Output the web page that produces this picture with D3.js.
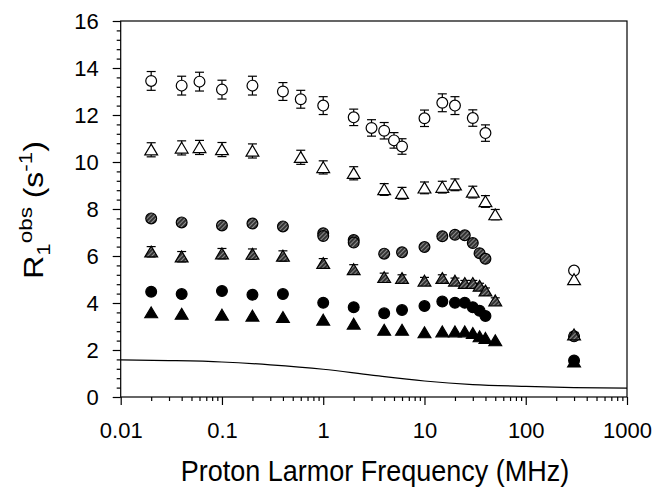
<!DOCTYPE html>
<html>
<head>
<meta charset="utf-8">
<script src="https://cdn.jsdelivr.net/npm/d3@7"></script>
<style>
  body { margin: 0; background: #fff; }
  text { font-family: "Liberation Sans", Arial, sans-serif; fill: #000; }
</style>
</head>
<body>
<div id="chart"></div>
<script>
// [frequency MHz, R1obs, error]
const openCircles = [
  [0.02, 13.45, 0.4], [0.04, 13.25, 0.4], [0.06, 13.42, 0.4], [0.1, 13.08, 0.4],
  [0.2, 13.25, 0.4], [0.4, 13.0, 0.38], [0.6, 12.67, 0.38], [1, 12.4, 0.38],
  [2, 11.9, 0.35], [3, 11.45, 0.35], [4, 11.33, 0.35], [5, 10.92, 0.33],
  [6, 10.66, 0.33], [10, 11.86, 0.35], [15, 12.52, 0.38], [20, 12.4, 0.38],
  [30, 11.87, 0.35], [40, 11.23, 0.35], [300, 5.38, 0]
];
const openTriangles = [
  [0.02, 10.52, 0.3], [0.04, 10.6, 0.3], [0.06, 10.62, 0.3], [0.1, 10.53, 0.3],
  [0.2, 10.47, 0.3], [0.6, 10.2, 0.3], [1, 9.77, 0.28], [2, 9.52, 0.28],
  [4, 8.83, 0.25], [6, 8.67, 0.25], [10, 8.9, 0.25], [15, 8.93, 0.25],
  [20, 9.03, 0.25], [30, 8.72, 0.25], [40, 8.32, 0.25], [50, 7.76, 0.22],
  [300, 5.0, 0]
];
const grayCircles = [
  [0.02, 7.6, 0.12], [0.04, 7.43, 0.12], [0.1, 7.3, 0.12], [0.2, 7.38, 0.12],
  [0.4, 7.26, 0.12], [1, 6.97, 0.1], [1, 6.85, 0.1], [2, 6.68, 0.1], [2, 6.57, 0.1],
  [4, 6.1, 0.1], [6, 6.16, 0.1], [10, 6.38, 0.1], [15, 6.84, 0.1], [20, 6.9, 0.1],
  [25, 6.88, 0.1], [30, 6.55, 0.1], [35, 6.12, 0.1], [40, 5.88, 0.1], [300, 2.58, 0]
];
const grayTriangles = [
  [0.02, 6.18, 0.22], [0.04, 5.97, 0.22], [0.1, 6.1, 0.22], [0.2, 6.08, 0.22],
  [0.4, 6.0, 0.22], [1, 5.69, 0.2], [2, 5.43, 0.2], [4, 5.09, 0.18],
  [6, 5.05, 0.15], [10, 4.94, 0.15], [15, 5.05, 0.15], [20, 4.94, 0.12],
  [25, 4.84, 0.12], [30, 4.84, 0.12], [35, 4.72, 0.12], [40, 4.52, 0.12],
  [50, 4.1, 0.12], [300, 2.65, 0.1]
];
const blackCircles = [
  [0.02, 4.48, 0], [0.04, 4.38, 0], [0.1, 4.51, 0], [0.2, 4.35, 0], [0.4, 4.38, 0],
  [1, 4.01, 0], [2, 3.82, 0], [4, 3.56, 0], [6, 3.7, 0], [10, 3.87, 0],
  [15, 4.06, 0], [20, 4.01, 0], [25, 4.01, 0], [30, 3.82, 0], [35, 3.67, 0],
  [40, 3.45, 0], [300, 1.55, 0]
];
const blackTriangles = [
  [0.02, 3.59, 0], [0.04, 3.53, 0], [0.1, 3.49, 0], [0.2, 3.45, 0], [0.4, 3.39, 0],
  [1, 3.28, 0], [2, 3.11, 0], [4, 2.85, 0], [6, 2.85, 0], [10, 2.74, 0],
  [15, 2.78, 0], [20, 2.78, 0], [25, 2.78, 0], [30, 2.71, 0], [35, 2.57, 0],
  [40, 2.5, 0], [50, 2.4, 0], [300, 1.5, 0]
];
// solid curve
const curve = [
  [0.01, 1.58], [0.03, 1.55], [0.1, 1.49], [0.3, 1.37], [1, 1.18], [3, 0.93],
  [10, 0.68], [30, 0.53], [100, 0.45], [300, 0.4], [1000, 0.38]
];
const xTicks = [0.01, 0.1, 1, 10, 100, 1000];
const xTickLabels = ["0.01", "0.1", "1", "10", "100", "1000"];
const yTicks = [0, 2, 4, 6, 8, 10, 12, 14, 16];

const width = 655, height = 488;
const M = { left: 120.7, right: 627, top: 21, bottom: 397 };

const svg = d3.select("#chart").append("svg")
  .attr("width", width).attr("height", height);
svg.append("rect").attr("width", width).attr("height", height).attr("fill", "#fff");

// hatched fill for grey markers
const pat = svg.append("defs").append("pattern")
  .attr("id", "hatch").attr("patternUnits", "userSpaceOnUse")
  .attr("width", 3).attr("height", 3).attr("patternTransform", "rotate(45)");
pat.append("rect").attr("width", 3).attr("height", 3).attr("fill", "#333");
pat.append("rect").attr("width", 1).attr("height", 3).attr("fill", "#8a8a8a");

const x = d3.scaleLog().domain([0.01, 1000]).range([M.left, M.right]);
const y = d3.scaleLinear().domain([0, 16]).range([M.bottom, M.top]);

// frame
svg.append("rect")
  .attr("x", M.left).attr("y", M.top)
  .attr("width", M.right - M.left).attr("height", M.bottom - M.top)
  .attr("fill", "none").attr("stroke", "#000").attr("stroke-width", 1.2);

// minor ticks
const yMinor = d3.range(0, 16.01, 0.4).filter(v => Math.abs(v / 2 - Math.round(v / 2)) > 0.01);
svg.append("g").attr("transform", `translate(${M.left},0)`)
  .call(d3.axisLeft(y).tickValues(yMinor).tickSize(4).tickFormat(""))
  .call(g => g.select(".domain").remove());
const xMinor = [];
for (let d = 0.01; d < 1000; d *= 10) for (let k = 2; k <= 9; k++) xMinor.push(d * k);
svg.append("g").attr("transform", `translate(0,${M.bottom})`)
  .call(d3.axisBottom(x).tickValues(xMinor).tickSize(4).tickFormat(""))
  .call(g => g.select(".domain").remove());

// major axes
const yAxis = svg.append("g").attr("transform", `translate(${M.left},0)`)
  .call(d3.axisLeft(y).tickValues(yTicks).tickSize(8).tickPadding(14).tickFormat(d3.format("d")));
const xAxis = svg.append("g").attr("transform", `translate(0,${M.bottom})`)
  .call(d3.axisBottom(x).tickValues(xTicks).tickSize(8).tickPadding(17)
    .tickFormat((d, i) => xTickLabels[i]));
[yAxis, xAxis].forEach(a => {
  a.select(".domain").remove();
  a.selectAll("text").style("font-size", "22px").attr("fill", "#000")
    .style("font-family", '"Liberation Sans", Arial, sans-serif');
});
svg.selectAll(".tick line").attr("stroke", "#000").attr("stroke-width", 1.2);
yAxis.selectAll("text").attr("dy", "0.36em");

// solid curve
const line = d3.line().x(d => x(d[0])).y(d => y(d[1])).curve(d3.curveMonotoneX);
svg.append("path").datum(curve).attr("d", line)
  .attr("fill", "none").attr("stroke", "#000").attr("stroke-width", 1.2);

// markers
const R = 5.4;
function triPath(cx, cy) {
  const w = 6.4, h = 5.7;
  return `M${cx},${cy - h}L${cx + w},${cy + h * 0.9}L${cx - w},${cy + h * 0.9}Z`;
}
function drawSeries(data, shape, fill) {
  const g = svg.append("g");
  const eb = g.selectAll(".eb").data(data.filter(d => d[2] > 0)).join("g");
  eb.append("line")
    .attr("x1", d => x(d[0])).attr("x2", d => x(d[0]))
    .attr("y1", d => y(d[1] - d[2])).attr("y2", d => y(d[1] + d[2]));
  eb.append("line")
    .attr("x1", d => x(d[0]) - 4.5).attr("x2", d => x(d[0]) + 4.5)
    .attr("y1", d => y(d[1] + d[2])).attr("y2", d => y(d[1] + d[2]));
  eb.append("line")
    .attr("x1", d => x(d[0]) - 4.5).attr("x2", d => x(d[0]) + 4.5)
    .attr("y1", d => y(d[1] - d[2])).attr("y2", d => y(d[1] - d[2]));
  eb.selectAll("line").attr("stroke", "#000").attr("stroke-width", 1.2);

  if (shape === "circle") {
    g.selectAll(".m").data(data).join("circle")
      .attr("cx", d => x(d[0])).attr("cy", d => y(d[1])).attr("r", R)
      .attr("fill", fill).attr("stroke", "#000").attr("stroke-width", 1.2);
  } else {
    g.selectAll(".m").data(data).join("path")
      .attr("d", d => triPath(x(d[0]), y(d[1])))
      .attr("fill", fill).attr("stroke", "#000").attr("stroke-width", 1.2)
      .attr("stroke-linejoin", "miter");
  }
}
drawSeries(openCircles, "circle", "#fff");
drawSeries(openTriangles, "triangle", "#fff");
drawSeries(grayCircles, "circle", "url(#hatch)");
drawSeries(grayTriangles, "triangle", "url(#hatch)");
drawSeries(blackCircles, "circle", "#000");
drawSeries(blackTriangles, "triangle", "#000");

// axis titles
svg.append("text")
  .attr("transform", "translate(375,481) scale(1,1.1)")
  .attr("text-anchor", "middle")
  .style("font-size", "27px")
  .text("Proton Larmor Frequency (MHz)");

const yl = svg.append("text")
  .attr("transform", "translate(43,210) rotate(-90) scale(1.18,1)")
  .attr("text-anchor", "middle")
  .style("font-size", "27px");
yl.append("tspan").text("R");
yl.append("tspan").attr("dy", 7).style("font-size", "19px").text("1");
yl.append("tspan").attr("dy", -18).style("font-size", "19px").text("obs");
yl.append("tspan").attr("dy", 11).text(" (s");
yl.append("tspan").attr("dy", -11).style("font-size", "19px").text("-1");
yl.append("tspan").attr("dy", 11).text(")");
</script>
</body>
</html>
